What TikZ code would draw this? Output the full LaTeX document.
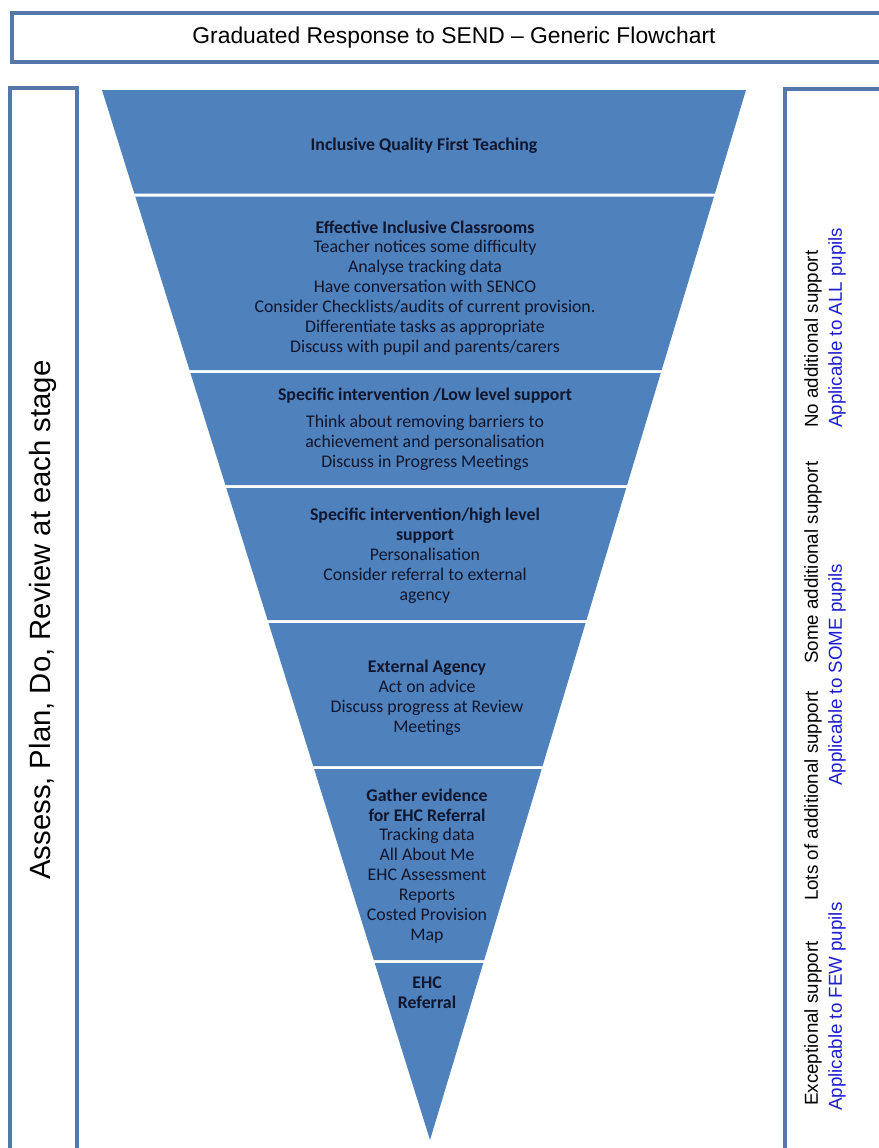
\documentclass[tikz,border=0pt]{standalone}
\usepackage{fontspec}
\setmainfont{Carlito}
\newfontfamily\arialfont{Liberation Sans}
\definecolor{funnel}{RGB}{79,129,189}
\definecolor{frame}{RGB}{84,120,170}
\definecolor{navy}{RGB}{16,22,45}
\definecolor{pupilblue}{RGB}{30,30,210}

\begin{document}
\begin{tikzpicture}[x=0.03cm,y=-0.03cm,
  stage/.style={fill=funnel},
  stagetext/.style={text=navy, align=center, inner sep=0pt, font=\fontsize{15.2}{17}\selectfont},
  sidebox/.style={draw=frame, line width=2.6pt},
  side/.style={rotate=90, anchor=west, font=\arialfont\fontsize{16}{19}\selectfont}]

\useasboundingbox (0,0) rectangle (879,1148);
\clip (0,0) rectangle (879,1148);

% title
  \draw[sidebox] (12,13) rectangle (900,62);
  \node[font=\arialfont\fontsize{19.5}{23}\selectfont] (title) at (454,38) {Graduated Response to SEND – Generic Flowchart};

% left frame
  \draw[sidebox] (10,88) rectangle (77,1170);
  \node[rotate=90, font=\arialfont\fontsize{25}{30}\selectfont] (cycle) at (43,620) {Assess, Plan, Do, Review at each stage};

% right frame
  \draw[sidebox] (785,89) rectangle (900,1170);

  \node[side] (noadd) at (813,432) {No additional support};
  \node[side, text=pupilblue] (allpupils) at (837,432) {Applicable to ALL pupils};
  \node[side] (someadd) at (813,668) {Some additional support};
  \node[side, text=pupilblue] (somepupils) at (837,790) {Applicable to SOME pupils};
  \node[side] (lotsadd) at (813,905) {Lots of additional support};
  \node[side] (exceptional) at (813,1110) {Exceptional support};
  \node[side, text=pupilblue] (fewpupils) at (837,1115) {Applicable to FEW pupils};

% funnel
  \fill[stage] (102,90) -- (746,90) -- (714.9,193.5) -- (134.3,193.5) -- cycle;
  \fill[stage] (135.3,196.5) -- (714.0,196.5) -- (661.7,370) -- (189.5,370) -- cycle;
  \fill[stage] (190.4,373) -- (660.8,373) -- (627.1,485) -- (225.4,485) -- cycle;
  \fill[stage] (226.3,488) -- (626.2,488) -- (586.5,620) -- (267.6,620) -- cycle;
  \fill[stage] (268.5,623) -- (585.6,623) -- (542.6,766) -- (313.2,766) -- cycle;
  \fill[stage] (314.1,769) -- (541.7,769) -- (484.2,960) -- (373.8,960) -- cycle;
  \fill[stage] (374.7,963) -- (483.3,963) -- (430,1140) -- cycle;

  \node[stagetext] (qft) at (424,146) {\textbf{Inclusive Quality First Teaching}};
  \node[stagetext] (classrooms) at (425,288) {\textbf{Effective Inclusive Classrooms}\\
    Teacher notices some difficulty\\ Analyse tracking data\\ Have conversation with SENCO\\
    Consider Checklists/audits of current provision.\\ Differentiate tasks as appropriate\\
    Discuss with pupil and parents/carers};
  \node[stagetext] (lowhead) at (425,396) {\textbf{Specific intervention /Low level support}};
  \node[stagetext] (lowbody) at (425,443) {Think about removing barriers to\\ achievement and personalisation\\ Discuss in Progress Meetings};
  \node[stagetext] (high) at (425,556) {\textbf{Specific intervention/high level}\\ \textbf{support}\\
    Personalisation\\ Consider referral to external\\ agency};
  \node[stagetext] (agency) at (427,698) {\textbf{External Agency}\\ Act on advice\\ Discuss progress at Review\\ Meetings};
  \node[stagetext] (evidence) at (427,866) {\textbf{Gather evidence}\\ \textbf{for EHC Referral}\\ Tracking data\\
    All About Me\\ EHC Assessment\\ Reports\\ Costed Provision\\ Map};
  \node[stagetext] (referral) at (427,993) {\textbf{EHC}\\ \textbf{Referral}};

\end{tikzpicture}
\end{document}
